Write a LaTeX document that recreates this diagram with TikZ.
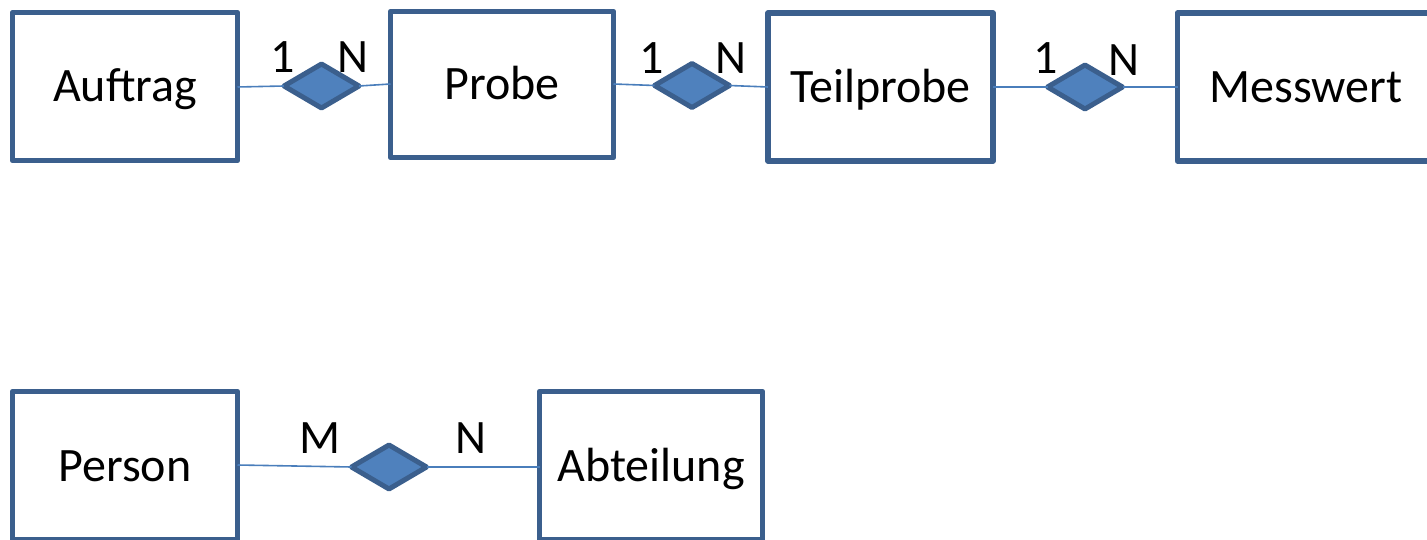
\documentclass[tikz,border=0pt]{standalone}
\usepackage{fontspec}
\setmainfont{Carlito}
\usetikzlibrary{shapes.geometric}
\definecolor{boxline}{HTML}{3B5F8D}
\definecolor{dfill}{HTML}{4F81BD}
\definecolor{conn}{HTML}{4A7EBB}
\tikzset{
  entity/.style={draw=boxline, line width=5.5pt, line join=round, fill=white, rectangle,
    minimum width=225pt, minimum height=148pt, inner sep=0pt, outer sep=0pt,
    font=\fontsize{48}{58}\selectfont, text height=31pt, text depth=0pt},
  rel/.style={draw=boxline, fill=dfill, line width=5pt, line join=round, diamond, aspect=1.7,
    minimum width=75pt, minimum height=44pt, inner sep=0pt, outer sep=0pt},
  card/.style={font=\fontsize{48}{58}\selectfont, text height=31pt, text depth=0pt, inner sep=0pt},
  link/.style={draw=conn, line width=1.6pt}
}
\begin{document}
\begin{tikzpicture}[x=1pt,y=-1pt]
\clip (0,0) rectangle (1427,540);
\useasboundingbox (0,0) rectangle (1427,540);
% entities
\node[entity] (auf) at (125,86.5) {Auftrag};
\node[entity, minimum width=223pt, minimum height=146pt] (pro) at (502,84.5) {Probe};
\node[entity] (tei) at (880.5,87) {Teilprobe};
\node[entity, minimum width=257pt, text width=225pt, align=center] (mes) at (1306,87) {Messwert};
\node[entity] (per) at (125,465.5) {Person};
\node[entity, minimum width=223pt] (abt) at (651,465.5) {Abteilung};
% relationships
\node[rel] (d1) at (321.5,86) {};
\node[rel] (d2) at (692,85.5) {};
\node[rel] (d3) at (1085,87) {};
\node[rel] (d4) at (389,467) {};
% connectors
\draw[link] (auf.east |- 0,87) -- (d1.west);
\draw[link] (d1.east) -- (pro.west |- 0,84);
\draw[link] (pro.east |- 0,84) -- (d2.west);
\draw[link] (d2.east) -- (tei.west |- 0,87);
\draw[link] (tei.east |- 0,87) -- (d3.west);
\draw[link] (d3.east) -- (mes.west |- 0,87);
\draw[link] (per.east |- 0,465) -- (d4.west);
\draw[link] (d4.east) -- (abt.west |- 0,467);
% cardinalities
\node[card] (c1a) at (283,57) {1};
\node[card] (c1b) at (353,57) {N};
\node[card] (c2a) at (652,58) {1};
\node[card] (c2b) at (731,58) {N};
\node[card] (c3a) at (1046,58) {1};
\node[card] (c3b) at (1124,60) {N};
\node[card] (c4a) at (320,438) {M};
\node[card] (c4b) at (471,438) {N};
\end{tikzpicture}
\end{document}
